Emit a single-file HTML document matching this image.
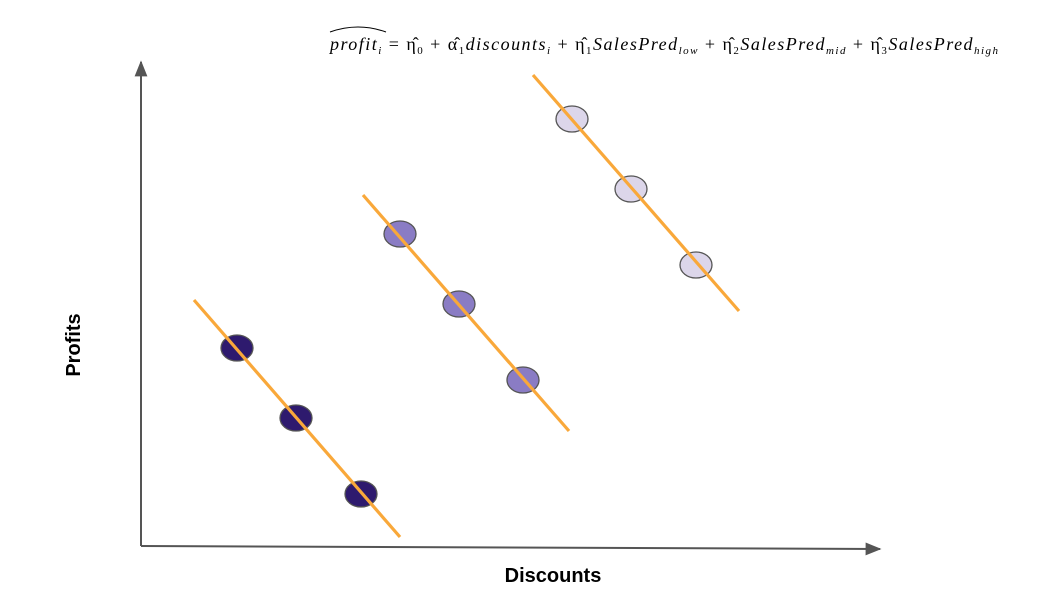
<!DOCTYPE html>
<html><head><meta charset="utf-8"><style>
body{margin:0;background:#fff;width:1039px;height:602px;overflow:hidden}
svg{display:block}
</style></head><body>
<svg id="chart" width="1039" height="602" xmlns="http://www.w3.org/2000/svg">
<defs>
<marker id="ah" viewBox="0 0 10 10" refX="9" refY="5" markerWidth="8" markerHeight="8" orient="auto-start-reverse"><path d="M0,1 L10,5 L0,9 z" fill="#555"/></marker>
</defs>
<line x1="141" y1="546" x2="141" y2="62" stroke="#555" stroke-width="2" marker-end="url(#ah)"/>
<line x1="141" y1="546" x2="880" y2="549" stroke="#555" stroke-width="2" marker-end="url(#ah)"/>
<text x="553" y="582" text-anchor="middle" font-family="Liberation Sans, sans-serif" font-weight="bold" font-size="20">Discounts</text>
<text transform="translate(80,345) rotate(-90)" text-anchor="middle" font-family="Liberation Sans, sans-serif" font-weight="bold" font-size="20">Profits</text>
<text x="330" y="50" textLength="668" lengthAdjust="spacing" font-family="Liberation Serif, serif" font-style="italic" font-size="18"><tspan>profit</tspan><tspan font-size="11" dy="4">i</tspan><tspan dy="-4" font-style="normal"> = η̂</tspan><tspan font-size="11" dy="4" font-style="normal">0</tspan><tspan dy="-4" font-style="normal"> + α̂</tspan><tspan font-size="11" dy="4" font-style="normal">1</tspan><tspan dy="-4">discounts</tspan><tspan font-size="11" dy="4">i</tspan><tspan dy="-4" font-style="normal"> + η̂</tspan><tspan font-size="11" dy="4" font-style="normal">1</tspan><tspan dy="-4">SalesPred</tspan><tspan font-size="11" dy="4">low</tspan><tspan dy="-4" font-style="normal"> + η̂</tspan><tspan font-size="11" dy="4" font-style="normal">2</tspan><tspan dy="-4">SalesPred</tspan><tspan font-size="11" dy="4">mid</tspan><tspan dy="-4" font-style="normal"> + η̂</tspan><tspan font-size="11" dy="4" font-style="normal">3</tspan><tspan dy="-4">SalesPred</tspan><tspan font-size="11" dy="4">high</tspan></text>
<path d="M330,32 Q358,22 386,32" fill="none" stroke="#000" stroke-width="1"/>
<g id="marks"></g>
</svg>
<script>
const groups = ['low','mid','high'];
const lowX = [9.6, 15.5, 22.0];
const lowY = [19.8, 12.8, 5.2];
const midX = [25.9, 31.8, 38.2];
const midY = [31.2, 24.2, 16.6];
const highX = [43.1, 49.0, 55.5];
const highY = [42.7, 35.7, 28.1];
const lineX1 = [5.3, 22.2, 39.2];
const lineY1 = [24.6, 35.1, 47.1];
const lineX2 = [25.9, 42.8, 59.8];
const lineY2 = [0.9, 11.5, 23.5];
const colors = ['#2e1a6e', '#8a7cc4', '#dcd6ea'];
const xs = v => 141 + v * 10;
const ys = v => 546 - v * 10;
const NS = 'http://www.w3.org/2000/svg';
const g = document.getElementById('marks');
const ptsX = [lowX, midX, highX], ptsY = [lowY, midY, highY];
groups.forEach((grp, gi) => {
  ptsX[gi].forEach((x, i) => {
    const e = document.createElementNS(NS, 'ellipse');
    
    
    e.setAttribute('cx', xs(x)); e.setAttribute('cy', ys(ptsY[gi][i]));
    e.setAttribute('rx', 16); e.setAttribute('ry', 13);
    e.setAttribute('fill', colors[gi]); e.setAttribute('stroke', '#555'); e.setAttribute('stroke-width', 1.3);
    g.appendChild(e);
  });
});
groups.forEach((grp, gi) => {
  const l = document.createElementNS(NS, 'line');
  
  
  l.setAttribute('x1', xs(lineX1[gi])); l.setAttribute('y1', ys(lineY1[gi]));
  l.setAttribute('x2', xs(lineX2[gi])); l.setAttribute('y2', ys(lineY2[gi]));
  l.setAttribute('stroke', '#f9a83a'); l.setAttribute('stroke-width', 3.2);
  g.appendChild(l);
});
</script>
</body></html>
